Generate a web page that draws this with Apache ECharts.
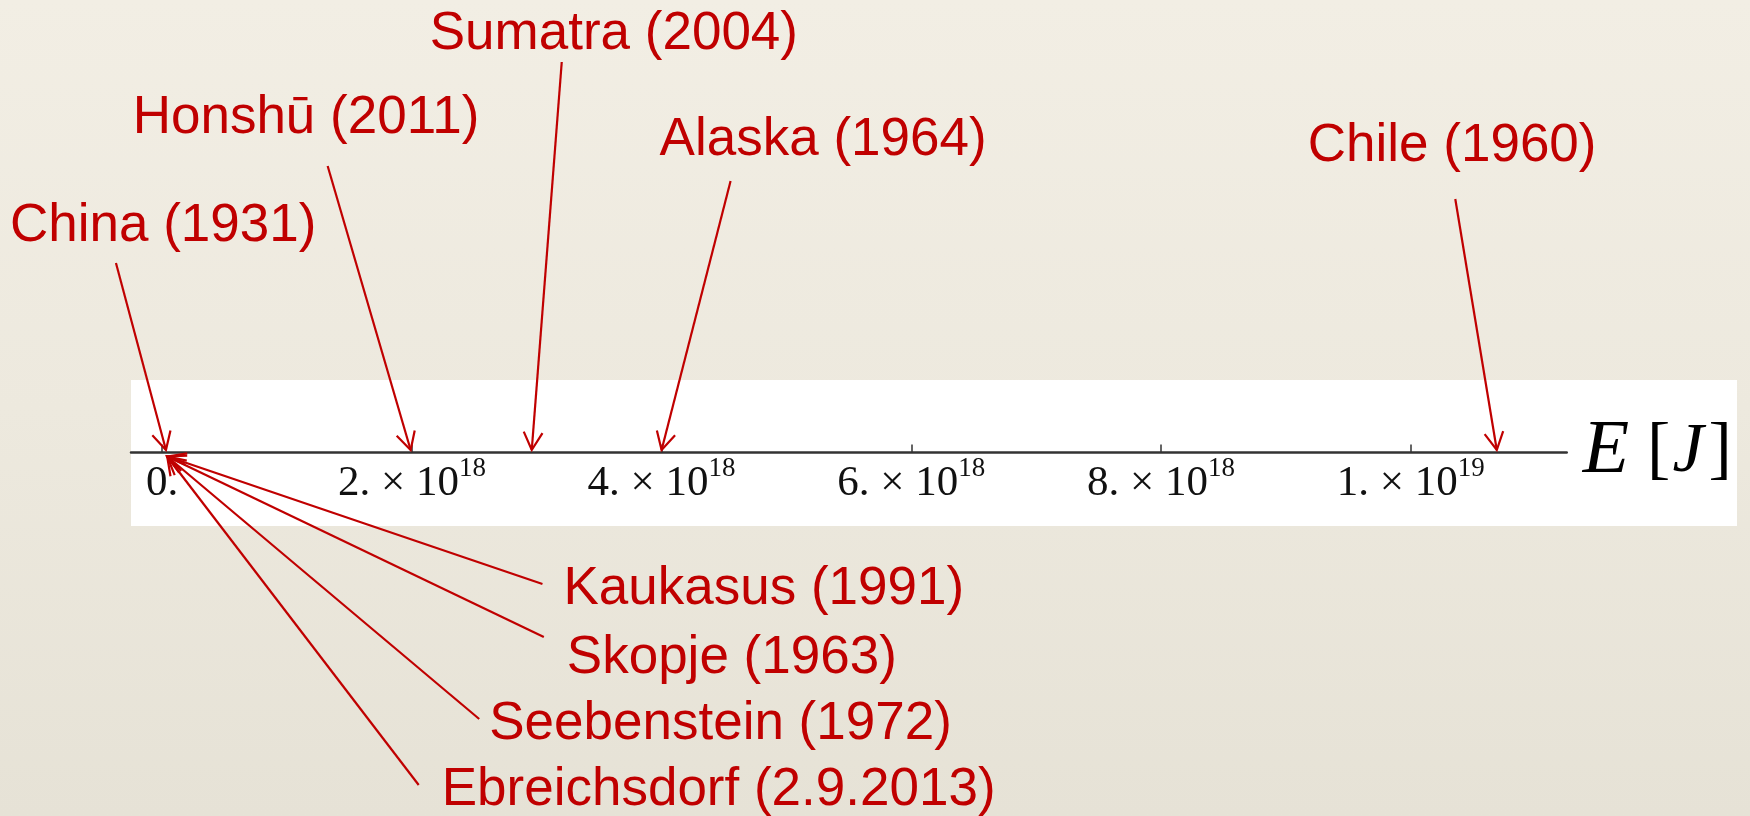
<!DOCTYPE html>
<html>
<head>
<meta charset="utf-8">
<script src="https://cdn.jsdelivr.net/npm/echarts@6/dist/echarts.min.js"></script>
<style>
  html, body { margin: 0; padding: 0; }
  #chart { width: 1750px; height: 816px; background: linear-gradient(to bottom, #F2EEE4 0%, #EDE9DE 50%, #E6E2D6 100%); }
</style>
</head>
<body>
<div id="chart"></div>
<script>
// ---- data ----
const events = ['China (1931)', 'Honshū (2011)', 'Sumatra (2004)', 'Alaska (1964)', 'Chile (1960)',
                'Kaukasus (1991)', 'Skopje (1963)', 'Seebenstein (1972)', 'Ebreichsdorf (2.9.2013)'];
const energies = [3e16, 1.99e18, 2.96e18, 4.0e18, 1.069e19, 2e15, 9e13, 6e12, 1e11];
const tickValues = [0, 2e18, 4e18, 6e18, 8e18, 1e19];
const tickMantissa = ['0.', '2.', '4.', '6.', '8.', '1.'];
const tickExponent = [null, '18', '18', '18', '18', '19'];

// ---- annotation layout (pixel offsets, relative to each point) ----
const layout = [
  { tip: [0, -2.5], from: [-50, -187], text: [-156, -224] },
  { tip: [0, -2.5], from: [-83, -284], text: [-278, -332] },
  { tip: [0, -2.5], from: [30, -388], text: [-102, -416] },
  { tip: [0, -2.5], from: [69, -269], text: [-2, -310] },
  { tip: [0, -2.5], from: [-41.5, -251], text: [-189, -304] },
  { tip: [5, 4], from: [375, 127.5], text: [396, 132.5] },
  { tip: [5, 4], from: [376.6, 180.5], text: [399.6, 201.5] },
  { tip: [5, 4], from: [312, 262.5], text: [322, 267.5] },
  { tip: [5, 4], from: [251.5, 328.5], text: [274.5, 334] }
];

const RED = '#C00000';
const SERIF = '"Liberation Serif", "Times New Roman", serif';

function renderItem(params, api) {
  const i = params.dataIndex;
  const p = api.coord([api.value(0), 0]);
  const L = layout[i];
  const tip = [p[0] + L.tip[0], p[1] + L.tip[1]];
  const from = [tip[0] + L.from[0], tip[1] + L.from[1]];
  const dx = tip[0] - from[0], dy = tip[1] - from[1];
  const len = Math.hypot(dx, dy);
  const ux = dx / len, uy = dy / len;
  const a = 28 * Math.PI / 180, h = 20;
  const c = Math.cos(a), s = Math.sin(a);
  const arm1 = [tip[0] - h * (ux * c - uy * s), tip[1] - h * (uy * c + ux * s)];
  const arm2 = [tip[0] - h * (ux * c + uy * s), tip[1] - h * (uy * c - ux * s)];
  return {
    type: 'group',
    children: [
      { type: 'line', shape: { x1: from[0], y1: from[1], x2: tip[0], y2: tip[1] },
        style: { stroke: RED, lineWidth: 2.2 } },
      { type: 'polyline', shape: { points: [arm1, tip, arm2] },
        style: { stroke: RED, lineWidth: 2.2, fill: null } },
      { type: 'text', x: tip[0] + L.text[0], y: tip[1] + L.text[1],
        style: { text: events[i], fill: RED, fontSize: 53, fontFamily: '"Liberation Sans", Arial, sans-serif',
                 align: 'left', verticalAlign: 'middle' } }
    ]
  };
}

const chart = echarts.init(document.getElementById('chart'), null, { renderer: 'canvas' });
chart.setOption({
  backgroundColor: 'transparent',
  animation: false,
  graphic: [
    { type: 'rect', z: -100, silent: true, shape: { x: 131, y: 380, width: 1606, height: 146 },
      style: { fill: '#FFFFFF' } }
  ],
  grid: { left: 131, right: 183.3, top: 0, bottom: 363.5, containLabel: false },
  xAxis: {
    type: 'value',
    min: -0.25e18,
    max: 11.25e18,
    splitLine: { show: false },
    axisLine: { show: true, onZero: false, lineStyle: { color: '#333333', width: 2.5 } },
    axisTick: { show: true, inside: true, length: 8, customValues: tickValues,
                lineStyle: { color: '#333333', width: 1.5 } },
    axisLabel: {
      customValues: tickValues,
      margin: 3,
      color: '#111111',
      formatter: function (v) {
        const i = tickValues.findIndex(t => Math.abs(t - v) < 1e15);
        if (i < 0) return '';
        return tickExponent[i]
          ? '{b|' + tickMantissa[i] + ' × 10}{s|' + tickExponent[i] + '}'
          : '{b|' + tickMantissa[i] + '}';
      },
      rich: {
        b: { fontFamily: SERIF, fontSize: 43, lineHeight: 56, color: '#111111' },
        s: { fontFamily: SERIF, fontSize: 27, lineHeight: 27, verticalAlign: 'top', color: '#111111' }
      }
    },
    name: '{i|E}{sp|}[{j|J}]',
    nameLocation: 'end',
    nameGap: 16,
    nameTextStyle: {
      fontFamily: SERIF,
      fontSize: 70,
      color: '#000000',
      verticalAlign: 'middle',
      rich: {
        i: { fontFamily: SERIF, fontSize: 76, fontStyle: 'italic', color: '#000000' },
        sp: { width: 18, fontSize: 70 },
        j: { fontFamily: SERIF, fontSize: 70, fontStyle: 'italic', color: '#000000', padding: [0, 5, 0, 2] }
      }
    }
  },
  yAxis: { type: 'value', min: 0, max: 1, show: false },
  series: [{
    type: 'custom',
    renderItem: renderItem,
    clip: false,
    encode: { x: 0, y: 1 },
    data: energies.map(e => [e, 0]),
    z: 5
  }]
});
</script>
</body>
</html>
